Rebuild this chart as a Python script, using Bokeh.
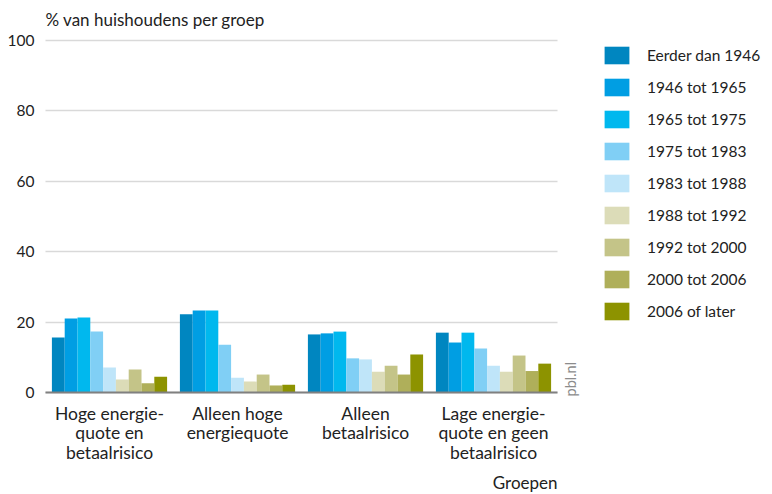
from bokeh.plotting import figure
from bokeh.models import ColumnDataSource, Legend, LegendItem, Label, FixedTicker, Range1d, Grid
from bokeh.embed import file_html
from bokeh.resources import INLINE

groups = ["Hoge energie-\nquote en\nbetaalrisico", "Alleen hoge\nenergiequote",
          "Alleen\nbetaalrisico", "Lage energie-\nquote en geen\nbetaalrisico"]
series = ["Eerder dan 1946", "1946 tot 1965", "1965 tot 1975", "1975 tot 1983",
          "1983 tot 1988", "1988 tot 1992", "1992 tot 2000", "2000 tot 2006", "2006 of later"]
colors = ["#0086c0", "#009ee3", "#00b8ee", "#80cff5", "#bfe5f9",
          "#dcdcb8", "#c4c488", "#afaf5a", "#8d9300"]
values = [
    [15.6, 22.2, 16.5, 17.0],
    [21.0, 23.3, 16.8, 14.2],
    [21.3, 23.3, 17.3, 17.0],
    [17.3, 13.6, 9.7, 12.5],
    [7.1, 4.2, 9.4, 7.6],
    [3.7, 3.1, 5.9, 5.9],
    [6.5, 5.1, 7.6, 10.5],
    [2.6, 2.0, 5.1, 6.1],
    [4.5, 2.2, 10.8, 8.2],
]
y_ticks = [0, 20, 40, 60, 80, 100]
y_title = "% van huishoudens per groep"
x_title = "Groepen"
source_note = "pbl.nl"

FONT = "Lato"
TXT = "#222222"

# canvas geometry (pixels)
W, H = 764, 494
PX_LEFT, PX_RIGHT = 45, 557      # data x 0..4
PX_TOP, PX_BOTTOM = 40, 392      # data y 100..0
ngroups = len(groups)
sx = (PX_RIGHT - PX_LEFT) / ngroups
sy = (PX_BOTTOM - PX_TOP) / 100.0
x_range = Range1d(-PX_LEFT / sx, (W - PX_LEFT) / sx)
y_range = Range1d(-(H - PX_BOTTOM) / sy, PX_BOTTOM / sy)

group_x = [i + 0.5 for i in range(ngroups)]
data = {"x": group_x}
for i, s in enumerate(series):
    data["s%d" % i] = values[i]
source = ColumnDataSource(data)

p = figure(x_range=x_range, y_range=y_range, width=W, height=H,
           frame_width=W, frame_height=H, min_border=0,
           output_backend="svg", toolbar_location=None)
p.outline_line_color = None
p.background_fill_color = "white"
p.border_fill_color = "white"

# gridlines limited to data area
p.xgrid.grid_line_color = None
p.ygrid.grid_line_color = None
grid = Grid(dimension=1, ticker=FixedTicker(ticks=y_ticks),
            grid_line_color="#d9d9d9", grid_line_width=1.5)
if "cross_bounds" in Grid.properties():
    grid.cross_bounds = (0, ngroups)
    p.add_layout(grid)
else:
    p.segment(x0=0, x1=ngroups, y0=y_ticks, y1=y_ticks,
              line_color="#d9d9d9", line_width=1.5)

items = []
n = len(series)
bw = 0.1
for i, s in enumerate(series):
    off = -bw * (n - 1) / 2 + i * bw
    xs = [gx + off for gx in group_x]
    r = p.vbar(x=xs, top=values[i], width=bw, fill_color=colors[i], line_color=None)
    items.append(LegendItem(label=s, renderers=[r]))

legend = Legend(items=items, location=(601, H - 322), glyph_width=31, glyph_height=22,
                label_height=22, spacing=10, padding=0, margin=0,
                label_text_font=FONT, label_text_font_size="15.5px",
                label_text_color=TXT, label_standoff=15,
                border_line_color=None, background_fill_alpha=0)
p.add_layout(legend)

p.yaxis.fixed_location = 0
p.yaxis.bounds = (0, 100)
p.yaxis.ticker = FixedTicker(ticks=y_ticks)
p.yaxis.axis_line_color = None
p.yaxis.major_tick_line_color = None
p.yaxis.minor_tick_line_color = None
p.yaxis.major_label_text_font = FONT
p.yaxis.major_label_text_font_size = "15.5px"
p.yaxis.major_label_text_color = TXT
p.yaxis.major_label_standoff = 5

p.xaxis.fixed_location = 0
p.xaxis.bounds = (0, ngroups)
p.xaxis.ticker = FixedTicker(ticks=group_x)
p.xaxis.major_label_overrides = {gx: g for gx, g in zip(group_x, groups)}
p.xaxis.axis_line_color = "#808080"
p.xaxis.axis_line_width = 2
p.xaxis.major_tick_line_color = None
p.xaxis.minor_tick_line_color = None
p.xaxis.major_label_text_font = FONT
p.xaxis.major_label_text_font_size = "17.5px"
p.xaxis.major_label_text_line_height = 0.93
p.xaxis.major_label_text_color = TXT
p.xaxis.major_label_standoff = 4

p.add_layout(Label(x=0, y=(PX_BOTTOM - 19) / sy, text=y_title, text_font=FONT,
                   text_font_size="17px", text_color=TXT, text_baseline="alphabetic"))
p.add_layout(Label(x=ngroups, y=-(482 - PX_BOTTOM) / sy, text=x_title, text_font=FONT,
                   text_align="right", text_font_size="17px", text_color=TXT,
                   text_baseline="alphabetic"))
p.add_layout(Label(x=(570 - PX_LEFT) / sx, y=-(396 - PX_BOTTOM) / sy, text=source_note,
                   text_font=FONT, angle=1.5708, text_font_size="14.5px",
                   text_color="#8c8c8c", text_baseline="alphabetic"))

open("out.html", "w").write(file_html(p, INLINE))
